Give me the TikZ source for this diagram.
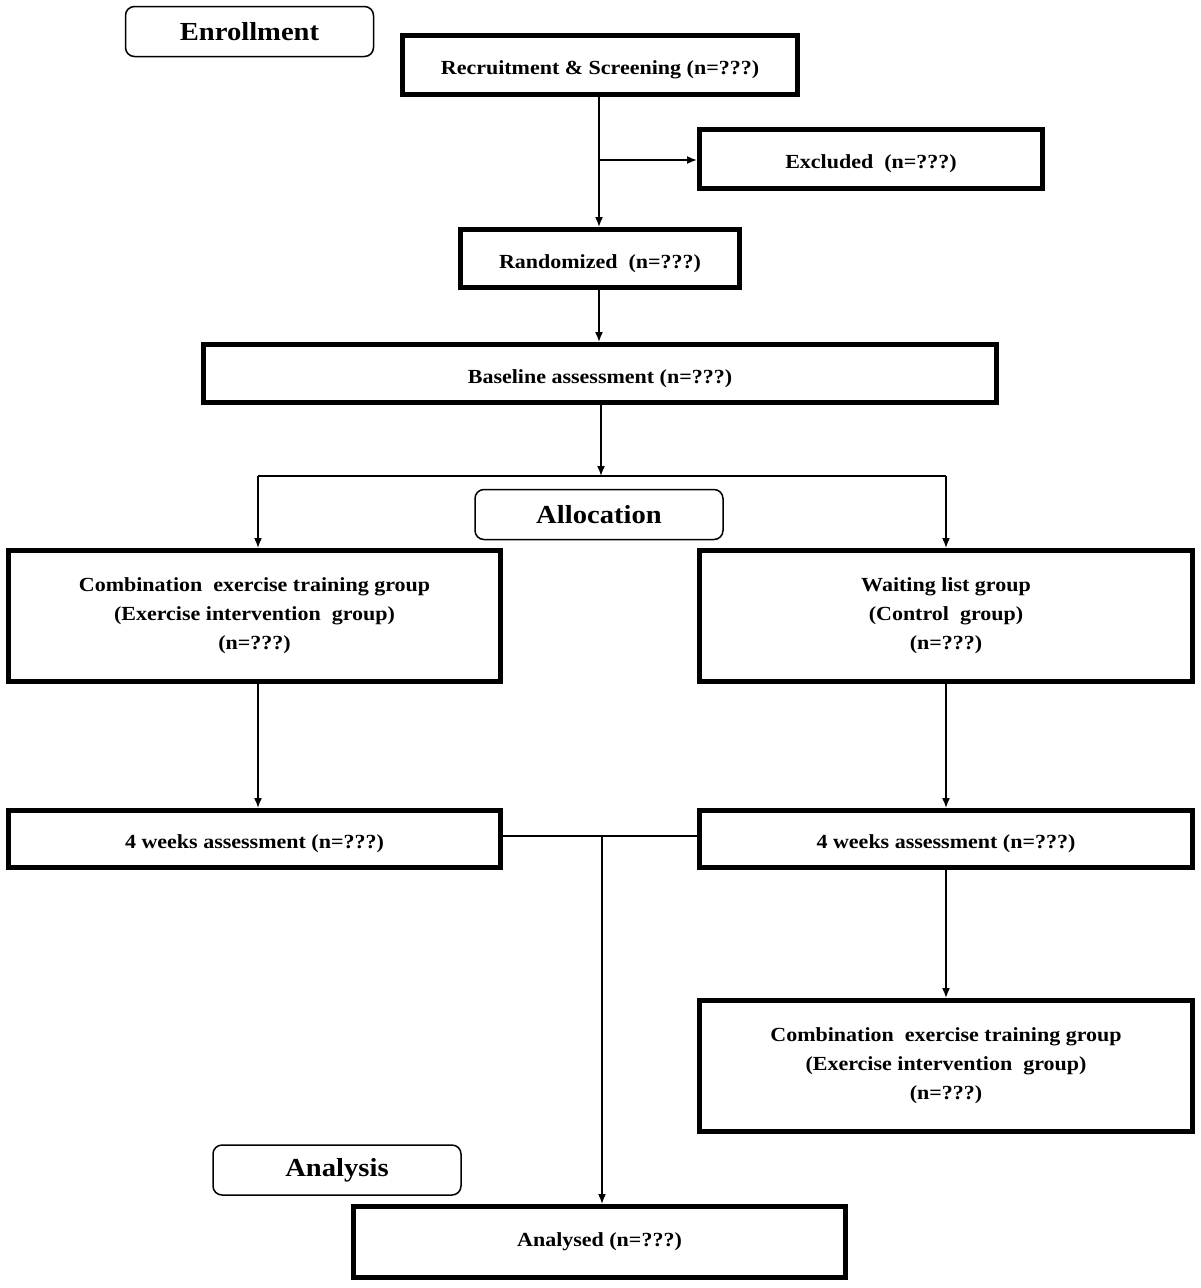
\documentclass[tikz,border=0pt]{standalone}
\usepackage{fontspec}
\setmainfont{Liberation Serif}
\newfontfamily\boxfont[FakeStretch=1.1]{Liberation Serif}
\usetikzlibrary{arrows.meta}
\tikzset{
  thickbox/.style={draw, line width=5pt, rectangle, inner sep=0pt, align=center, font=\boxfont\fontsize{20}{29}\selectfont\bfseries},
  phase/.style={draw, line width=1.5pt, rectangle, rounded corners=9pt, inner sep=0pt, font=\boxfont\fontsize{26}{30}\selectfont\bfseries},
  conn/.style={line width=1.6pt},
  arr/.style={conn, -{Latex[length=10pt,width=8pt]}}
}
\newcommand{\dn}[1]{\raisebox{-5pt}[\height][\depth]{#1}}
\begin{document}
\begin{tikzpicture}[x=1pt,y=-1pt]
\useasboundingbox (0,0) rectangle (1200,1288);
% phase labels
\node[phase, minimum width=248pt, minimum height=50pt] (enr) at (249.5,31.5) {Enrollment};
\node[phase, minimum width=248pt, minimum height=50pt] (alloc) at (599,514.5) {Allocation};
\node[phase, minimum width=248pt, minimum height=50pt] (anl) at (337,1170) {Analysis};
% boxes
\node[thickbox, minimum width=395pt, minimum height=59pt] (rec) at (600,65) {\dn{Recruitment \& Screening (n=???)}};
\node[thickbox, minimum width=343pt, minimum height=59pt] (exc) at (871,159) {\dn{Excluded\ \ (n=???)}};
\node[thickbox, minimum width=279pt, minimum height=58pt] (rand) at (600,258.5) {\dn{Randomized\ \ (n=???)}};
\node[thickbox, minimum width=793pt, minimum height=58pt] (base) at (600,373.5) {\dn{Baseline assessment (n=???)}};
\node[thickbox, minimum width=492pt, minimum height=131pt] (lg) at (254.5,616) {Combination\ \ exercise training group\\(Exercise intervention\ \ group)\\(n=???)};
\node[thickbox, minimum width=493pt, minimum height=131pt] (rg) at (946,616) {Waiting list group\\(Control\ \ group)\\(n=???)};
\node[thickbox, minimum width=492pt, minimum height=57pt] (lw) at (254.5,839) {\dn{4 weeks assessment (n=???)}};
\node[thickbox, minimum width=493pt, minimum height=57pt] (rw) at (946,839) {\dn{4 weeks assessment (n=???)}};
\node[thickbox, minimum width=493pt, minimum height=131pt] (rc) at (946,1066) {Combination\ \ exercise training group\\(Exercise intervention\ \ group)\\(n=???)};
\node[thickbox, minimum width=492pt, minimum height=71pt] (an) at (599.5,1242) {Analysed (n=???)};
% coordinates
\coordinate (recb) at (599,97);
\coordinate (exbr) at (599,160);
\coordinate (split) at (601,476);
\coordinate (sl) at (258,476);
\coordinate (sr) at (946,476);
\coordinate (mid) at (602,836);
% connectors
\draw[arr] (recb) -- (rand.north -| recb);
\draw[arr] (exbr) -- (exc.west |- exbr);
\draw[arr] (rand.south -| recb) -- (base.north -| recb);
\draw[arr] (base.south -| split) -- (split);
\draw[conn] (sl) -- (sr);
\draw[arr] (sl) -- (lg.north -| sl);
\draw[arr] (sr) -- (rg.north -| sr);
\draw[arr] (lg.south -| sl) -- (lw.north -| sl);
\draw[arr] (rg.south -| sr) -- (rw.north -| sr);
\draw[conn] (lw.east |- mid) -- (rw.west |- mid);
\draw[arr] (mid) -- (an.north -| mid);
\draw[arr] (rw.south -| sr) -- (rc.north -| sr);
\end{tikzpicture}
\end{document}
